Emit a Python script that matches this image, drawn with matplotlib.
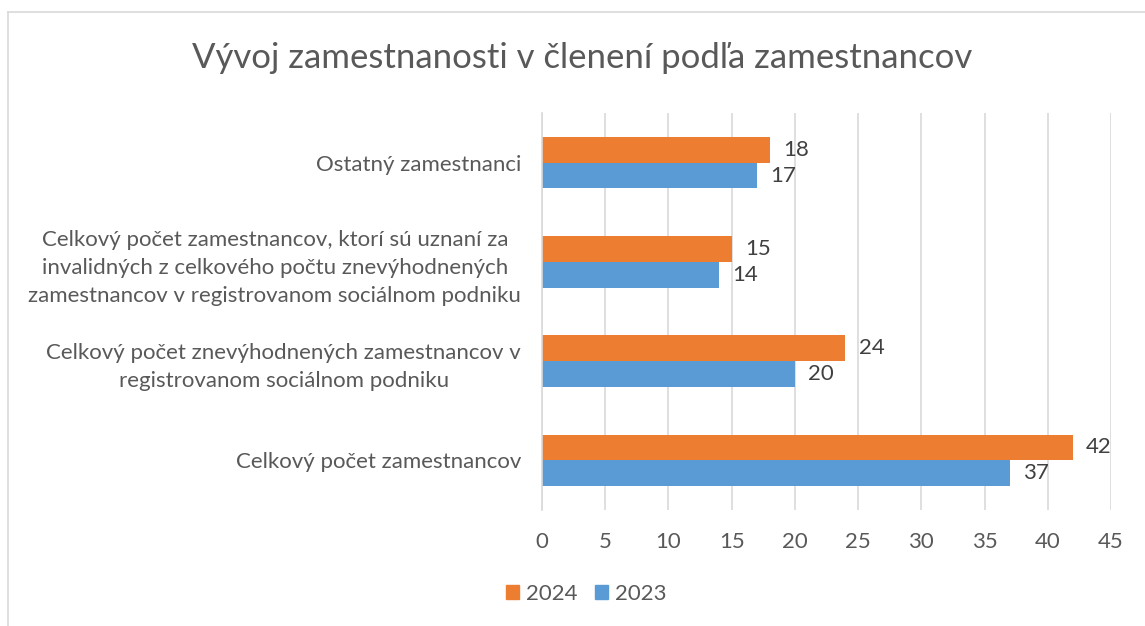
import numpy as np
import matplotlib.pyplot as plt
from matplotlib.patches import Patch

plt.rcParams['font.family'] = ['Lato', 'DejaVu Sans']

kategorie = [
    'Celkový počet zamestnancov',
    'Celkový počet znevýhodnených zamestnancov v\nregistrovanom sociálnom podniku',
    'Celkový počet zamestnancov, ktorí sú uznaní za\ninvalidných z celkového počtu znevýhodnených\nzamestnancov v registrovanom sociálnom podniku',
    'Ostatný zamestnanci',
]
hodnoty_2024 = [42, 24, 15, 18]
hodnoty_2023 = [37, 20, 14, 17]

farba_2024 = '#ED7D31'
farba_2023 = '#5B9BD5'
text_farba = '#595959'

fig = plt.figure(figsize=(11.45, 6.26), dpi=100)
ax = fig.add_axes([0.4734, 0.1853, 0.4969, 0.6342])

# ramček grafu
fig.add_artist(plt.Line2D([8 / 1145, 1], [1 - 12 / 626, 1 - 12 / 626], color='#D9D9D9', lw=1.2))
fig.add_artist(plt.Line2D([8 / 1145, 8 / 1145], [0, 1 - 12 / 626], color='#D9D9D9', lw=1.2))

y = np.arange(len(kategorie))
v = 0.26
b1 = ax.barh(y + v / 2, hodnoty_2024, height=v, color=farba_2024, label='2024')
b2 = ax.barh(y - v / 2, hodnoty_2023, height=v, color=farba_2023, label='2023')

for bars in (b1, b2):
    for r in bars:
        ax.annotate(str(int(r.get_width())), (r.get_width(), r.get_y() + r.get_height() / 2),
                    xytext=(9.5, 0), textcoords='offset points', va='center', ha='left',
                    fontsize=16, color='#404040')

ax.set_xlim(0, 45)
ax.set_ylim(-0.5, 3.5)
ax.set_xticks(range(0, 46, 5))
ax.set_yticks(y)
ax.set_yticklabels(kategorie, fontsize=16, color=text_farba, ha='right',
                   multialignment='center', linespacing=1.5)
ax.tick_params(axis='y', length=0, pad=15)
ax.tick_params(axis='x', length=0, labelsize=16, labelcolor=text_farba, pad=16)
ax.grid(axis='x', color='#D9D9D9', lw=1.2)
ax.set_axisbelow(True)
for s in ['top', 'right', 'bottom']:
    ax.spines[s].set_visible(False)
ax.spines['left'].set_color('#D9D9D9')
ax.spines['left'].set_linewidth(1.2)

fig.text(0.508, 1 - 58 / 626, 'Vývoj zamestnanosti v členení podľa zamestnancov',
         ha='center', va='center', fontsize=25, color=text_farba)

fig.legend(handles=[Patch(color=farba_2024, label='2024'), Patch(color=farba_2023, label='2023')],
           loc='center', bbox_to_anchor=(0.512, 1 - 594 / 626), ncol=2, frameon=False,
           fontsize=16, labelcolor=text_farba, handlelength=0.6, handleheight=0.6,
           handletextpad=0.3, columnspacing=0.8)

fig.savefig('out.png', dpi=100)
